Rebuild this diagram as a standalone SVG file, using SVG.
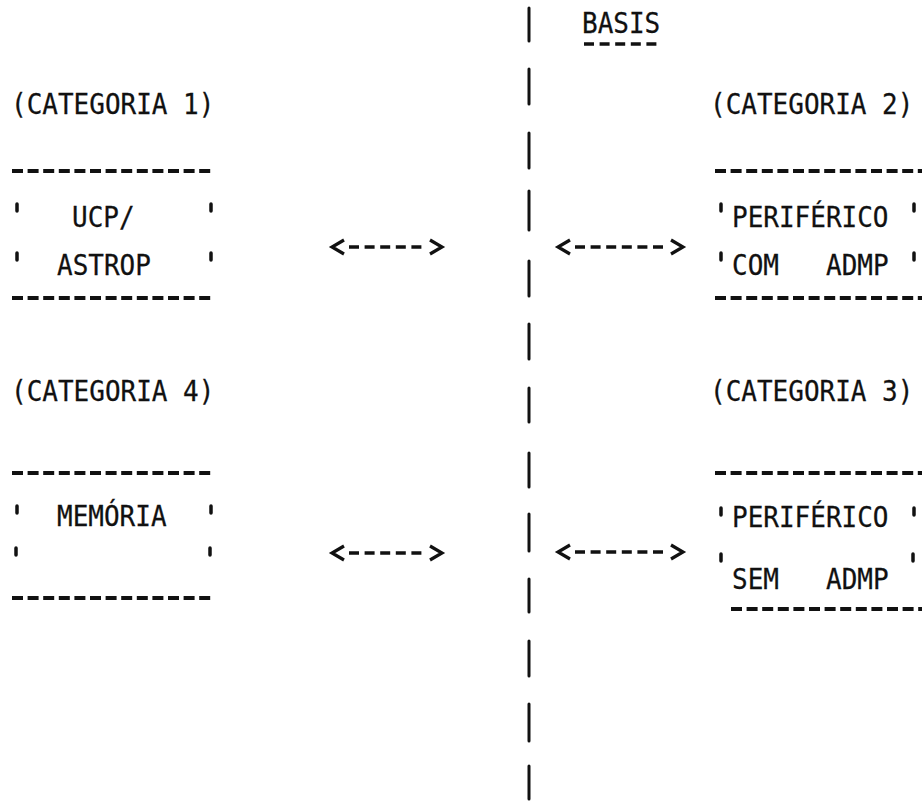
<svg xmlns="http://www.w3.org/2000/svg" width="922" height="804" viewBox="0 0 922 804">
  <style>
    .t { font-family: "DejaVu Sans Mono", "Liberation Mono", monospace; font-size: 26px; fill: #111; stroke: #111; stroke-width: 0.25; white-space: pre; }
    .rule { fill: none; stroke: #111; stroke-width: 4; stroke-dasharray: 11 4.6; }
    .ul { fill: none; stroke: #111; stroke-width: 3.5; stroke-dasharray: 10 5.6; }
    .tick { stroke: #111; stroke-width: 3.5; stroke-linecap: round; }
    .bar { stroke: #111; stroke-width: 3; stroke-linecap: round; }
    .shaft { fill: none; stroke: #111; stroke-width: 3.5; stroke-dasharray: 10 5.6; }
    .head { fill: none; stroke: #111; stroke-width: 3.2; stroke-linejoin: miter; }
  </style>
  <rect width="922" height="804" fill="#fff"/>

  <!-- dividing column of typed bars -->
  <g id="divider">
    <line class="bar" x1="529" y1="8" x2="529" y2="41"/>
    <line class="bar" x1="529" y1="69" x2="529" y2="104"/>
    <line class="bar" x1="529" y1="133" x2="529" y2="168"/>
    <line class="bar" x1="529" y1="191" x2="529" y2="230"/>
    <line class="bar" x1="529" y1="261" x2="529" y2="296"/>
    <line class="bar" x1="529" y1="324" x2="529" y2="359"/>
    <line class="bar" x1="529" y1="388" x2="529" y2="422"/>
    <line class="bar" x1="529" y1="453" x2="529" y2="487"/>
    <line class="bar" x1="529" y1="514" x2="529" y2="551"/>
    <line class="bar" x1="529" y1="579" x2="529" y2="612"/>
    <line class="bar" x1="529" y1="641" x2="529" y2="676"/>
    <line class="bar" x1="529" y1="704" x2="529" y2="741"/>
    <line class="bar" x1="529" y1="766" x2="529" y2="799"/>
  </g>

  <!-- heading -->
  <g id="basis">
    <text class="t" transform="translate(582,33) scale(1,1.12)">BASIS</text>
    <path class="ul" d="M584,44 H658"/>
  </g>

  <!-- category 1 -->
  <g id="cat1">
    <text class="t" transform="translate(11,114) scale(1,1.12)">(CATEGORIA 1)</text>
    <path class="rule" d="M12,171 H214"/>
    <line class="tick" x1="17" y1="204" x2="17" y2="211"/>
    <line class="tick" x1="211" y1="204" x2="211" y2="211"/>
    <text class="t" transform="translate(72,227) scale(1,1.12)">UCP/</text>
    <line class="tick" x1="17" y1="253" x2="17" y2="260"/>
    <line class="tick" x1="211" y1="253" x2="211" y2="260"/>
    <text class="t" transform="translate(57,275) scale(1,1.12)">ASTROP</text>
    <path class="rule" d="M12,298 H214"/>
  </g>

  <!-- category 2 -->
  <g id="cat2">
    <text class="t" transform="translate(710,114) scale(1,1.12)">(CATEGORIA 2)</text>
    <path class="rule" d="M715,171 H922"/>
    <line class="tick" x1="721" y1="204" x2="721" y2="211"/>
    <text class="t" transform="translate(732,227) scale(1,1.12)">PERIFÉRICO</text>
    <line class="tick" x1="914" y1="204" x2="914" y2="211"/>
    <line class="tick" x1="721" y1="253" x2="721" y2="260"/>
    <text class="t" transform="translate(732,275) scale(1,1.12)">COM</text>
    <text class="t" transform="translate(826,275) scale(1,1.12)">ADMP</text>
    <line class="tick" x1="914" y1="253" x2="914" y2="260"/>
    <path class="rule" d="M715,298 H922"/>
  </g>

  <!-- category 4 -->
  <g id="cat4">
    <text class="t" transform="translate(11,401) scale(1,1.12)">(CATEGORIA 4)</text>
    <path class="rule" d="M12,473 H214"/>
    <line class="tick" x1="17" y1="506" x2="17" y2="513"/>
    <text class="t" transform="translate(57,526) scale(1,1.12)">MEMÓRIA</text>
    <line class="tick" x1="211" y1="506" x2="211" y2="513"/>
    <line class="tick" x1="16" y1="548" x2="16" y2="555"/>
    <line class="tick" x1="210" y1="548" x2="210" y2="555"/>
    <path class="rule" d="M12,598 H214"/>
  </g>

  <!-- category 3 -->
  <g id="cat3">
    <text class="t" transform="translate(710,401) scale(1,1.12)">(CATEGORIA 3)</text>
    <path class="rule" d="M715,473 H922"/>
    <line class="tick" x1="721" y1="508" x2="721" y2="515"/>
    <text class="t" transform="translate(732,527) scale(1,1.12)">PERIFÉRICO</text>
    <line class="tick" x1="914" y1="508" x2="914" y2="515"/>
    <line class="tick" x1="721" y1="554" x2="721" y2="561"/>
    <line class="tick" x1="913" y1="554" x2="913" y2="561"/>
    <text class="t" transform="translate(732,589) scale(1,1.12)">SEM</text>
    <text class="t" transform="translate(826,589) scale(1,1.12)">ADMP</text>
    <path class="rule" d="M731,609 H922"/>
  </g>

  <!-- double-headed links -->
  <g id="connectors">
    <g id="link-1-divider">
      <polyline class="head" points="344,240 332,247 344,254"/>
      <path class="shaft" d="M349,247 H423"/>
      <polyline class="head" points="430,240 442,247 430,254"/>
    </g>
    <g id="link-divider-2">
      <polyline class="head" points="570,240 558,247 570,254"/>
      <path class="shaft" d="M575,247 H665"/>
      <polyline class="head" points="671,240 683,247 671,254"/>
    </g>
    <g id="link-4-divider">
      <polyline class="head" points="344,546 332,553 344,560"/>
      <path class="shaft" d="M349,553 H423"/>
      <polyline class="head" points="430,546 442,553 430,560"/>
    </g>
    <g id="link-divider-3">
      <polyline class="head" points="570,545 558,552 570,559"/>
      <path class="shaft" d="M575,552 H665"/>
      <polyline class="head" points="671,545 683,552 671,559"/>
    </g>
  </g>
</svg>
